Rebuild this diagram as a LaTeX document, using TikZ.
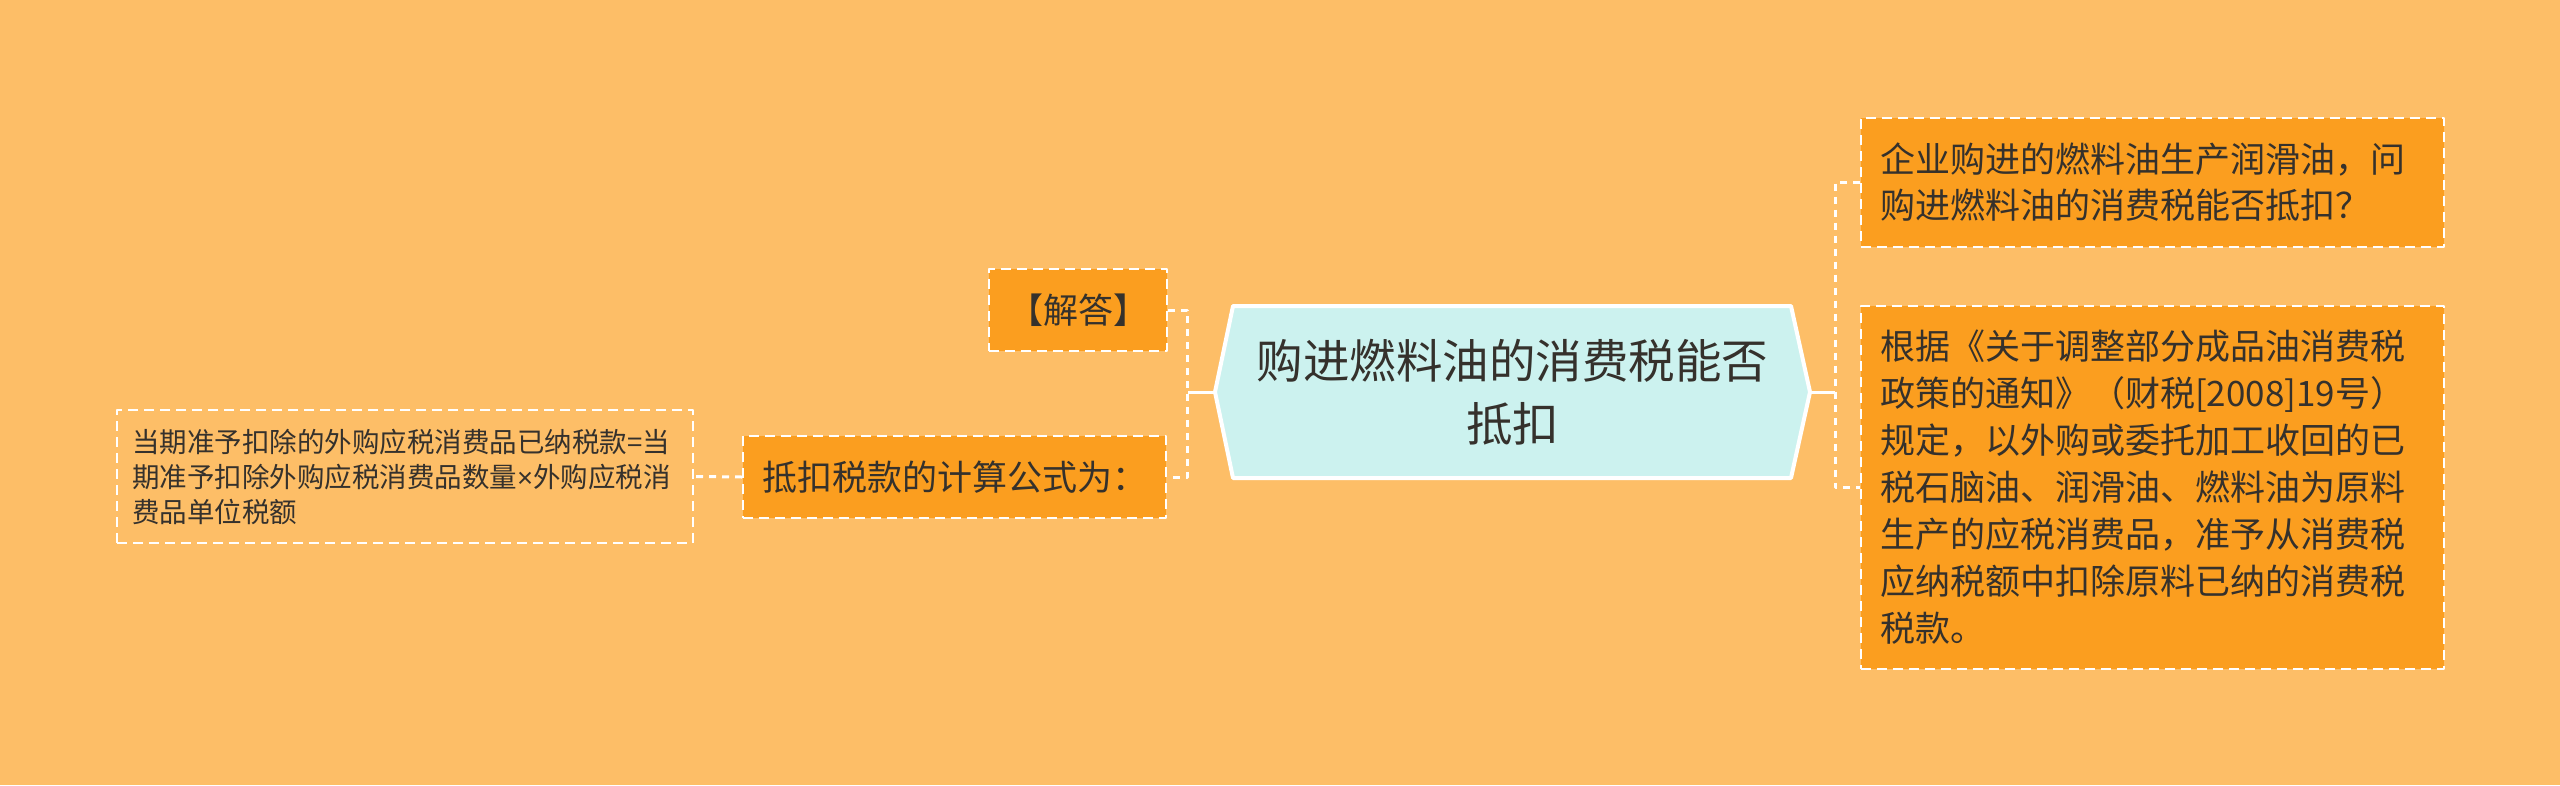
\documentclass[tikz,border=0pt]{standalone}
\usepackage{fontspec}
\setmainfont{Noto Sans CJK SC}
\newfontfamily\latinfont{Liberation Sans}
\definecolor{paper}{HTML}{FDBE67}
\definecolor{boxorange}{HTML}{FB9E1F}
\definecolor{topicfill}{HTML}{CCF2EF}
\definecolor{ink}{HTML}{35312C}
\begin{document}
\begin{tikzpicture}[x=1pt, y=-1pt, line join=round, text=ink,
  box/.style={fill=boxorange, draw=white, dash pattern=on 10pt off 6pt, line width=2pt,
    inner xsep=19pt, inner ysep=0pt, font=\fontsize{35pt}{46pt}\selectfont},
  note/.style={box, align=left, text width=545pt},
  leaf/.style={draw=white, dash pattern=on 10pt off 6pt, line width=2pt, align=left,
    inner xsep=15pt, text width=546pt, minimum height=133pt,
    font=\fontsize{27.5pt}{35pt}\selectfont},
  topic/.style={align=center, minimum width=595pt, minimum height=172pt,
    font=\fontsize{46.5pt}{63pt}\selectfont},
  link/.style={draw=white, line width=3pt},
  dlink/.style={link, dash pattern=on 7pt off 6pt}]
\useasboundingbox (0,0) rectangle (2560,785);
\fill[paper] (0,0) rectangle (2560,785);
% centre topic
\filldraw[fill=topicfill, draw=white, line width=4pt]
  (1215,392) -- (1233,306) -- (1791,306) -- (1810,392) -- (1791,478) -- (1233,478) -- cycle;
\node[topic] (topic) at (1512.5,392) {购进燃料油的消费税能否\\抵扣};
% left side
\node[box, minimum height=82pt, anchor=north west] (ans) at (988,268) {【解答】};
\node[box, minimum height=82pt, anchor=north west] (calc) at (742,435) {抵扣税款的计算公式为：};
\node[leaf, anchor=north west] (formula) at (116,409)
  {当期准予扣除的外购应税消费品已纳税款=当\\期准予扣除外购应税消费品数量{\latinfont ×}外购应税消\\费品单位税额};
% right side
\node[note, minimum height=129pt, anchor=north west] (quest) at (1860,117)
  {企业购进的燃料油生产润滑油，问\\购进燃料油的消费税能否抵扣？};
\node[note, minimum height=363pt, anchor=north west, font=\fontsize{35pt}{47pt}\selectfont] (basis) at (1860,305)
  {根据《关于调整部分成品油消费税\\政策的通知》（财税[2008]19号）\\规定，以外购或委托加工收回的已\\税石脑油、润滑油、燃料油为原料\\生产的应税消费品，准予从消费税\\应纳税额中扣除原料已纳的消费税\\税款。};
% connectors
\draw[link] (topic.west) -- ++(-27,0) coordinate (lfork);
\draw[dlink] (ans.east) -| (lfork) |- (calc.east);
\draw[dlink] (calc.west) -- (formula.east);
\draw[link] (topic.east) -- ++(25,0) coordinate (rfork);
\draw[dlink] (quest.west) -| (rfork) |- (basis.west);
\end{tikzpicture}
\end{document}
